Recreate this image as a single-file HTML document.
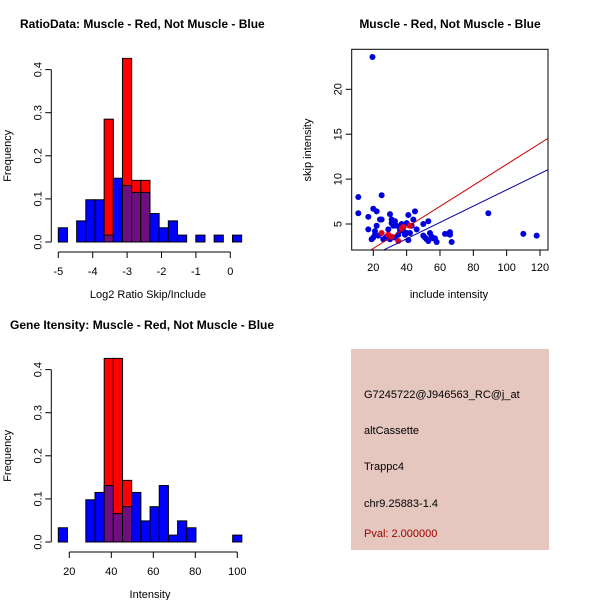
<!DOCTYPE html>
<html><head><meta charset="utf-8"><style>
body{margin:0;background:#fff}
svg{display:block;font-family:"Liberation Sans",sans-serif}
</style></head><body>
<svg id="c" width="600" height="600" xmlns="http://www.w3.org/2000/svg">
<rect x="351" y="349" width="198" height="201" fill="#e5c7c0"/>
<text x="364" y="398" font-size="11">G7245722@J946563_RC@j_at</text>
<text x="364" y="434" font-size="11">altCassette</text>
<text x="364" y="470" font-size="11">Trappc4</text>
<text x="364" y="507" font-size="11">chr9.25883-1.4</text>
<text x="364" y="537" font-size="11" fill="#a00000">Pval: 2.000000</text>
</svg>
<script>
const h1Blue=[0.033,0,0.049,0.098,0.098,0.016,0.148,0.131,0.115,0.115,0.066,0.033,0.049,0.016,0,0.016,0,0.016,0,0.016];
const h1Red=[0,0,0,0,0,0.285,0,0.426,0.143,0.143,0,0,0,0,0,0,0,0,0,0];
const h1Start=-5, h1Width=0.2665;
const h1XTicks=[-5,-4,-3,-2,-1,0];
const yTicks=[0,0.1,0.2,0.3,0.4];
const h2Blue=[0.033,0,0,0.098,0.115,0.131,0.066,0.082,0.115,0.049,0.082,0.131,0.016,0.049,0.033,0,0,0,0,0.016];
const h2Red=[0,0,0,0,0,0.426,0.426,0.143,0,0,0,0,0,0,0,0,0,0,0,0];
const h2Start=14.76, h2Width=4.37;
const h2XTicks=[20,40,60,80,100];
const scBlueX=[11,11,19.5,17,17,19,20,20,22,22,21,21,23,24,25,25,26,27,28,29,30,30,31,31,32,33,34,33,35,36,37,38,39,40,40,41,41,42,43,44,45,46,50,50,51,52,53,53,54,55,56,57,58,63,65,66,66,67,89,110,118];
const scBlueY=[8,6.2,23.6,5.8,4.4,3.3,3.5,6.7,6.4,4.8,4.2,3.8,3.7,5.5,5.5,8.2,3.3,3.4,3.6,4.4,3.3,6.1,5.5,5.1,4.8,5.3,4.8,3.5,3.8,4.3,5.0,4.2,3.8,4.0,5.1,3.2,6.0,4.0,4.8,5.5,6.4,4.4,5.0,3.7,3.5,3.3,5.3,3.1,4.0,3.6,3.4,3.4,3.0,3.9,3.9,4.1,3.8,3.0,6.2,3.9,3.7];
const scRedX=[25,29,31,35,37,38,42];
const scRedY=[4.0,3.8,3.6,3.1,4.5,4.7,4.8];
const redFit=[-0.06,0.117], blueFit=[-0.27,0.0907];
const scXTicks=[20,40,60,80,100,120];
const scYTicks=[5,10,15,20];

const svg=document.getElementById('c');
const NS='http://www.w3.org/2000/svg';
function el(t,a,txt){const e=document.createElementNS(NS,t);for(const k in a)e.setAttribute(k,a[k]);if(txt!==undefined)e.textContent=txt;svg.appendChild(e);return e;}

function hist(o){
  const sx=v=>o.x0+(v-o.v0)*o.kx, sy=v=>o.y0-v*o.ky;
  const t=el('text',{x:o.tx,y:o.ty,'font-size':12,'font-weight':'bold'},o.title);
  
  for(let i=0;i<o.blue.length;i++){
    const a=o.start+i*o.w,b=a+o.w,bl=o.blue[i],rd=o.red[i];
    const lo=Math.min(bl,rd),hi=Math.max(bl,rd);
    if(hi>0){const r=el('rect',{x:sx(a),y:sy(hi),width:sx(b)-sx(a),height:sy(0)-sy(hi),fill:bl>=rd?'#0000ff':'#ff0000',stroke:'#000','stroke-width':1});
      }
    if(lo>0){const r=el('rect',{x:sx(a),y:sy(lo),width:sx(b)-sx(a),height:sy(0)-sy(lo),fill:'#6f0f7f',stroke:'#000','stroke-width':1});
      }
  }
  const ay=o.y0+10;
  el('line',{x1:sx(o.xt[0]),x2:sx(o.xt[o.xt.length-1]),y1:ay,y2:ay,stroke:'#000'});
  o.xt.forEach(v=>{el('line',{x1:sx(v),x2:sx(v),y1:ay,y2:ay+6,stroke:'#000'});
    const t=el('text',{x:sx(v),y:ay+23,'font-size':11,'text-anchor':'middle'},v);
    });
  const ax=o.x0-o.axOff;
  el('line',{x1:ax,x2:ax,y1:sy(0),y2:sy(0.4),stroke:'#000'});
  yTicks.forEach(v=>{el('line',{x1:ax,x2:ax-6,y1:sy(v),y2:sy(v),stroke:'#000'});
    const t=el('text',{x:0,y:0,'font-size':11,'text-anchor':'middle',transform:`translate(${ax-10},${sy(v)}) rotate(-90)`},v.toFixed(1));
    });
  const xl=el('text',{x:o.xlx,y:o.xly,'font-size':11,'text-anchor':'middle'},o.xlab);
  
  const yl=el('text',{x:0,y:0,'font-size':11,'text-anchor':'middle',transform:`translate(11,${sy(0.2)}) rotate(-90)`},'Frequency');
  
}
hist({name:'ratio-hist',title:'RatioData: Muscle - Red, Not Muscle - Blue',tx:20,ty:28,blue:h1Blue,red:h1Red,start:h1Start,w:h1Width,
  x0:58.3,v0:-5,kx:34.4,y0:242,ky:431,xt:h1XTicks,axOff:7,xlab:'Log2 Ratio Skip/Include',xlx:148,xly:298});
hist({name:'intensity-hist',title:'Gene Itensity: Muscle - Red, Not Muscle - Blue',tx:10,ty:329,blue:h2Blue,red:h2Red,start:h2Start,w:h2Width,
  x0:69.3,v0:20,kx:2.1,y0:542,ky:431,xt:h2XTicks,axOff:18,xlab:'Intensity',xlx:150,xly:598});

// scatter
const L=351.7,R=548,T=49.3,B=250;
const px=v=>373.3+(v-20)*1.667, py=v=>224-(v-5)*8.98;
const st=el('text',{x:450,y:28,'font-size':12,'font-weight':'bold','text-anchor':'middle'},'Muscle - Red, Not Muscle - Blue');

const cp=el('clipPath',{id:'cp'});const cr=document.createElementNS(NS,'rect');
cr.setAttribute('x',L);cr.setAttribute('y',T);cr.setAttribute('width',R-L);cr.setAttribute('height',B-T);cp.appendChild(cr);
scBlueX.forEach((x,i)=>{const c=el('circle',{cx:px(x),cy:py(scBlueY[i]),r:3,fill:'#0000dd','clip-path':'url(#cp)'});
  });
scRedX.forEach((x,i)=>{const c=el('circle',{cx:px(x),cy:py(scRedY[i]),r:3,fill:'#dd0022','clip-path':'url(#cp)'});
  });
function fit(f,col,n){const xa=0,xb=130;
  const l=el('line',{x1:px(xa),y1:py(f[0]+f[1]*xa),x2:px(xb),y2:py(f[0]+f[1]*xb),stroke:col,'stroke-width':1,'clip-path':'url(#cp)'});
  }
fit(redFit,'#cc0000','red-fit-line');fit(blueFit,'#0000aa','blue-fit-line');
el('rect',{x:L,y:T,width:R-L,height:B-T,fill:'none',stroke:'#000'});
scXTicks.forEach(v=>{el('line',{x1:px(v),x2:px(v),y1:B,y2:B+6,stroke:'#000'});
  const t=el('text',{x:px(v),y:B+21,'font-size':11,'text-anchor':'middle'},v);
  });
scYTicks.forEach(v=>{el('line',{x1:L,x2:L-6,y1:py(v),y2:py(v),stroke:'#000'});
  const t=el('text',{x:0,y:0,'font-size':11,'text-anchor':'middle',transform:`translate(${L-10},${py(v)}) rotate(-90)`},v);
  });
const sxl=el('text',{x:449,y:298,'font-size':11,'text-anchor':'middle'},'include intensity');

const syl=el('text',{x:0,y:0,'font-size':11,'text-anchor':'middle',transform:'translate(311,150) rotate(-90)'},'skip intensity');

</script>
</body></html>
